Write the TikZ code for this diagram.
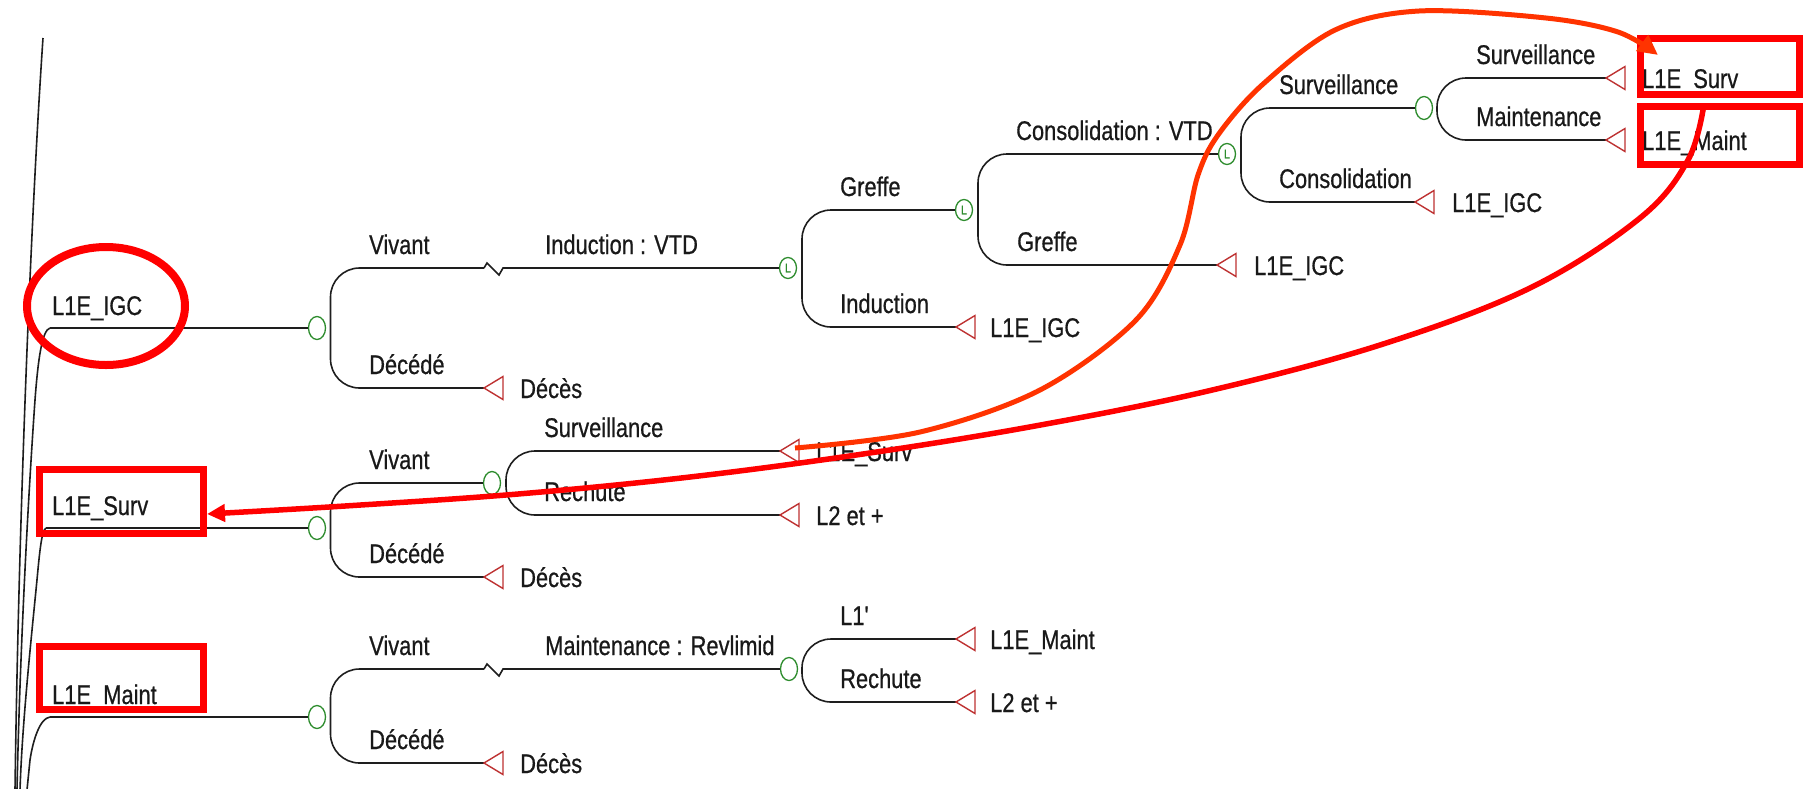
\documentclass[tikz,border=0pt]{standalone}
\usepackage{fontspec}
\setmainfont[FakeStretch=0.81,FakeBold=0.6,Ligatures=TeXOff]{Liberation Sans}
\usetikzlibrary{arrows.meta,calc,shapes.geometric}
\definecolor{lnc}{RGB}{30,30,30}
\definecolor{grn}{RGB}{45,140,45}
\definecolor{trired}{RGB}{190,50,50}
\definecolor{orng}{RGB}{255,51,0}
\definecolor{rred}{RGB}{255,0,0}
\tikzset{
 ln/.style={draw=lnc,line width=1.6pt},
 br/.style={ln,rounded corners=29pt},
 chance/.style={ellipse,draw=grn,line width=1.3pt,minimum width=17pt,minimum height=23pt,inner sep=0pt},
 lnode/.style={ellipse,draw=grn,line width=1.3pt,minimum width=17pt,minimum height=21pt,inner sep=0pt,text=grn,font=\fontsize{13}{13}\selectfont},
 lab/.style={anchor=base west,inner sep=0pt,font=\fontsize{27}{30}\selectfont,text=black!90},
 tristyle/.style={draw=trired,line width=1.4pt},
 term/.pic={\draw[tristyle] (0,0) -- (19,-11.5) -- (19,11.5) -- cycle;},
 redbox/.style={draw=rred,line width=7pt,inner sep=0pt},
 zz/.style={ln},
}
\begin{document}
\begin{tikzpicture}[x=1pt,y=-1pt]
\useasboundingbox (0,0) rectangle (1803,788);
\fill[white] (0,0) rectangle (1803,788);

% ---------- left edge branches ----------
\coordinate (e0) at (43,38);
\coordinate (b0) at (15,790);
\coordinate (r1) at (50,328);
\coordinate (r2) at (46,528);
\coordinate (r3) at (50,717);
\draw[ln] (e0) .. controls (32,200) and (19,500) .. (b0);
\draw[ln] (r1) .. controls (42,330) and (38,360) .. (35,400) .. controls (28,500) and (20,650) .. (17,790);
\draw[ln] (r2) .. controls (41,530) and (39,560) .. (36,590) .. controls (29,660) and (22,730) .. (20,790);
\draw[ln] (r3) .. controls (40,718) and (33,740) .. (30,760) -- (27,790);

% ---------- tree 1 : L1E_IGC ----------
\node[chance] (c1) at (317,328) {};
\draw[ln] (r1) -- (c1.west);
\node[lab] (r1t) at (52,315) {L1E\_IGC};
\coordinate (z1) at (484,268);
\coordinate (t1) at (484,388);
\draw[br] (z1) -- (330.5,268) -- (330.5,388) -- (t1);
\pic at (t1) {term};
\node[lab] at (369,254) {Vivant};
\node[lab] at (369,374) {Décédé};
\node[lab] (t1t) at (520,398) {Décès};
\node[lnode] (l1) at (788,268) {L};
\draw[zz] (z1) -- ++(3,-5) -- ++(12,12) -- ++(4,-7) -- (l1.west);
\node[lab] at (545,254) {Induction : VTD};

\node[lnode] (l2) at (964,210) {L};
\coordinate (t2) at (956,327);
\draw[br] (l2.west) -- (802,210) -- (802,327) -- (t2);
\pic at (t2) {term};
\node[lab] at (840,196) {Greffe};
\node[lab] at (840,313) {Induction};
\node[lab] (t2t) at (990,337) {L1E\_IGC};

\node[lnode] (l3) at (1227,154) {L};
\coordinate (t3) at (1217,265);
\draw[br] (l3.west) -- (978,154) -- (978,265) -- (t3);
\pic at (t3) {term};
\node[lab] at (1016,140) {Consolidation : VTD};
\node[lab] at (1017,251) {Greffe};
\node[lab] (t3t) at (1254,275) {L1E\_IGC};

\node[chance] (c2) at (1424,108) {};
\coordinate (t4) at (1415,202);
\draw[br] (c2.west) -- (1241,108) -- (1241,202) -- (t4);
\pic at (t4) {term};
\node[lab] at (1279,94) {Surveillance};
\node[lab] at (1279,188) {Consolidation};
\node[lab] (t4t) at (1452,212) {L1E\_IGC};

\coordinate (t5) at (1606,78);
\coordinate (t6) at (1606,140);
\draw[br] (t5) -- (1437,78) -- (1437,140) -- (t6);
\pic at (t5) {term};
\pic at (t6) {term};
\node[lab] at (1476,64) {Surveillance};
\node[lab] at (1476,126) {Maintenance};
\node[lab] (t5t) at (1642,88) {L1E\_Surv};
\node[lab] (t6t) at (1642,150) {L1E\_Maint};

% ---------- tree 2 : L1E_Surv ----------
\node[chance] (c3) at (317,528) {};
\draw[ln] (r2) -- (c3.west);
\node[lab] (r2t) at (52,515) {L1E\_Surv};
\node[chance] (c4) at (492,483) {};
\coordinate (t7) at (484,577);
\draw[br] (c4.west) -- (330.5,483) -- (330.5,577) -- (t7);
\pic at (t7) {term};
\node[lab] at (369,469) {Vivant};
\node[lab] at (369,563) {Décédé};
\node[lab] (t7t) at (520,587) {Décès};
\coordinate (t8) at (780,451);
\coordinate (t9) at (780,515);
\draw[br] (t8) -- (506,451) -- (506,515) -- (t9);
\pic at (t8) {term};
\pic at (t9) {term};
\node[lab] at (544,437) {Surveillance};
\node[lab] at (544,501) {Rechute};
\node[lab] (t8t) at (816,461) {L1E\_Surv};
\node[lab] (t9t) at (816,525) {L2 et +};

% ---------- tree 3 : L1E_Maint ----------
\node[chance] (c5) at (317,717) {};
\draw[ln] (r3) -- (c5.west);
\node[lab] (r3t) at (52,704) {L1E\_Maint};
\coordinate (z2) at (484,669);
\coordinate (t10) at (484,763);
\draw[br] (z2) -- (330.5,669) -- (330.5,763) -- (t10);
\pic at (t10) {term};
\node[lab] at (369,655) {Vivant};
\node[lab] at (369,749) {Décédé};
\node[lab] (t10t) at (520,773) {Décès};
\node[chance] (c6) at (789,669) {};
\draw[zz] (z2) -- ++(3,-5) -- ++(12,12) -- ++(4,-7) -- (c6.west);
\node[lab] at (545,655) {Maintenance : Revlimid};
\coordinate (t11) at (956,639);
\coordinate (t12) at (956,702);
\draw[br] (t11) -- (802,639) -- (802,702) -- (t12);
\pic at (t11) {term};
\pic at (t12) {term};
\node[lab] at (840,625) {L1'};
\node[lab] at (840,688) {Rechute};
\node[lab] (t11t) at (990,649) {L1E\_Maint};
\node[lab] (t12t) at (990,712) {L2 et +};

% ---------- annotations ----------
\node[ellipse,draw=rred,line width=8pt,minimum width=158pt,minimum height=118pt,inner sep=0pt] (ell) at (106,306) {};
\node[redbox,minimum width=164pt,minimum height=64pt] (bsurv) at (121.5,501.5) {};
\node[redbox,minimum width=164pt,minimum height=63pt] (bmaint) at (121.5,678) {};
\node[redbox,minimum width=159pt,minimum height=56pt] (bsurvR) at (1720,66.5) {};
\node[redbox,minimum width=159pt,minimum height=58pt] (bmaintR) at (1720,135.5) {};

\coordinate (oa) at (795,448);
\coordinate (ob) at (1658,55);
\draw[orng,line width=5pt,-{Triangle[length=20pt,width=19pt]}] plot[smooth,tension=0.55] coordinates {(oa) (920,432) (1040,390) (1136,320) (1180,245) (1198,175) (1218,135) (1262,85) (1335,30) (1419,11) (1546,18) (1618,32) (ob)};

\coordinate (ra) at (1704,104);
\coordinate (rb) at (207,514);
\draw[rred,line width=5.5pt,-{Triangle[length=18pt,width=17pt]}] plot[smooth,tension=0.6] coordinates {(ra) (1688,160) (1640,218) (1530,288) (1380,345) (1208,391) (1035,426) (863,454) (690,477) (518,494) (345,506) (rb)};
\end{tikzpicture}
\end{document}
